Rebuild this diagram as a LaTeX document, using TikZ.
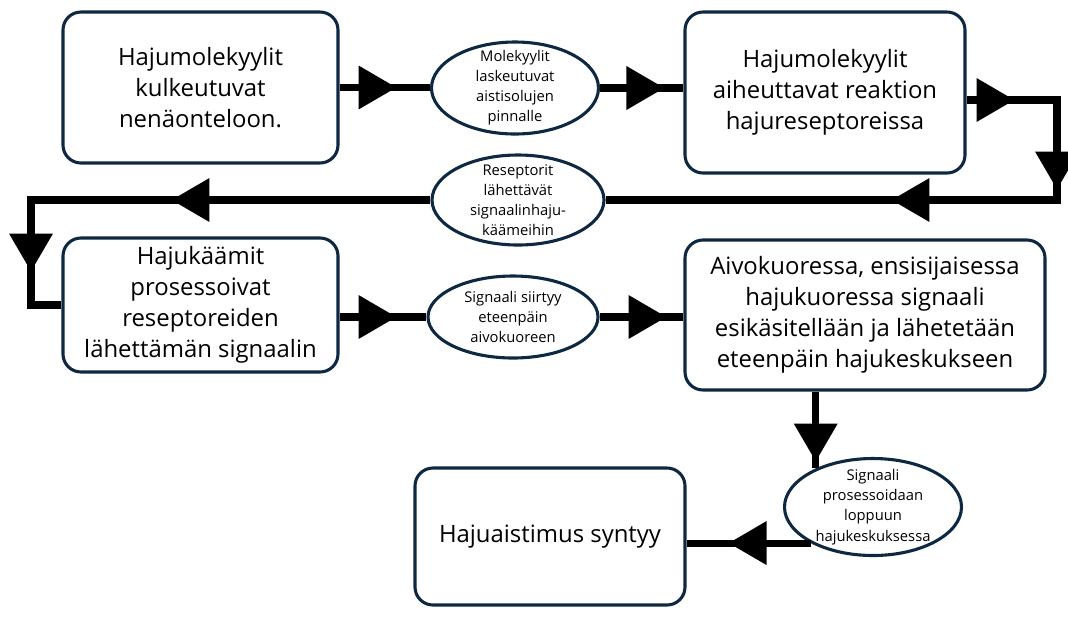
\documentclass[tikz,border=0pt]{standalone}
\usepackage{fontspec}
\setmainfont{Open Sans}
\usetikzlibrary{shapes.geometric,arrows.meta,decorations.markings}
\definecolor{navy}{HTML}{0E2841}
\begin{document}
\begin{tikzpicture}
    \tikzset{
    stage/.style={rectangle,rounded corners=0.45cm,draw=navy,line width=2.2pt,fill=white,align=center,font=\fontsize{17}{22}\selectfont},
    bubble/.style={ellipse,draw=navy,line width=2.2pt,fill=white,inner sep=0pt},
    btext/.style={align=center,font=\fontsize{10.5}{14.3}\selectfont},
    flow/.style={line width=5pt,black,postaction={decorate}},
    tipat/.style={decoration={markings,mark=at position #1 with {\arrow{Triangle[length=0.95cm,width=1.05cm]}}}},
    }
    \useasboundingbox (0,0) rectangle (26.7,-15.4);

    \node[stage,minimum width=6.875cm,minimum height=3.775cm] (b1) at (5.0125,-2.1875) {Hajumolekyylit\\kulkeutuvat\\nenäonteloon.};
    \node[stage,minimum width=7cm,minimum height=4.025cm] (b2) at (20.625,-2.3125) {Hajumolekyylit\\aiheuttavat reaktion\\hajureseptoreissa};
    \node[stage,minimum width=6.875cm,minimum height=3.35cm] (b3) at (5.0125,-7.625) {Hajukäämit\\prosessoivat\\reseptoreiden\\lähettämän signaalin};
    \node[stage,minimum width=9cm,minimum height=3.75cm] (b4) at (21.625,-7.875) {Aivokuoressa, ensisijaisessa\\hajukuoressa signaali\\esikäsitellään ja lähetetään\\eteenpäin hajukeskukseen};
    \node[stage,minimum width=6.75cm,minimum height=3.425cm] (b5) at (13.75,-13.4125) {Hajuaistimus syntyy};

    \node[bubble,minimum width=4.175cm,minimum height=2.3cm,label={[btext]center:Molekyylit\\laskeutuvat\\aistisolujen\\pinnalle}] (e1) at (12.875,-2.2) {};
    \node[bubble,minimum width=4.3cm,minimum height=2.25cm,label={[btext]center:Reseptorit\\lähettävät\\signaalinhaju-\\käämeihin}] (e2) at (12.95,-5.0) {};
    \node[bubble,minimum width=4.25cm,minimum height=2.05cm,label={[btext]center:Signaali siirtyy\\eteenpäin\\aivokuoreen}] (e3) at (12.825,-7.925) {};
    \node[bubble,minimum width=4.425cm,minimum height=2.425cm,label={[btext]center:Signaali\\prosessoidaan\\loppuun\\hajukeskuksessa}] (e4) at (21.825,-12.675) {};

    \coordinate (c1) at (26.425,-2.5);
    \coordinate (c2) at (26.425,-5.0);
    \coordinate (c3) at (0.775,-5.0);

    \draw[flow,tipat=1.425cm] (b1.east) -- (b1.east -| e1.west);
    \draw[flow,tipat=1.61cm] (e1.east) -- (e1.east -| b2.west);
    \draw[flow,tipat=1.2cm,tipat=4.5cm,tipat=8.9cm] (b2.east |- c1) -- (c1) -- (c2) -- (e2.east);
    \draw[flow,tipat=6.475cm,tipat=11.775cm] (e2.west) -- (c3) -- (c3 |- b3.west) -- (b3.west);
    \draw[flow,tipat=1.425cm] (b3.east |- e3.west) -- (e3.west);
    \draw[flow,tipat=1.675cm] (e3.east) -- (e3.east -| b4.west);
    \draw[flow,tipat=1.75cm] (e4.146 |- b4.south) -- (e4.146);
    \draw[flow,tipat=2.05cm] (e4.210) -- (e4.210 -| b5.east);
\end{tikzpicture}
\end{document}
